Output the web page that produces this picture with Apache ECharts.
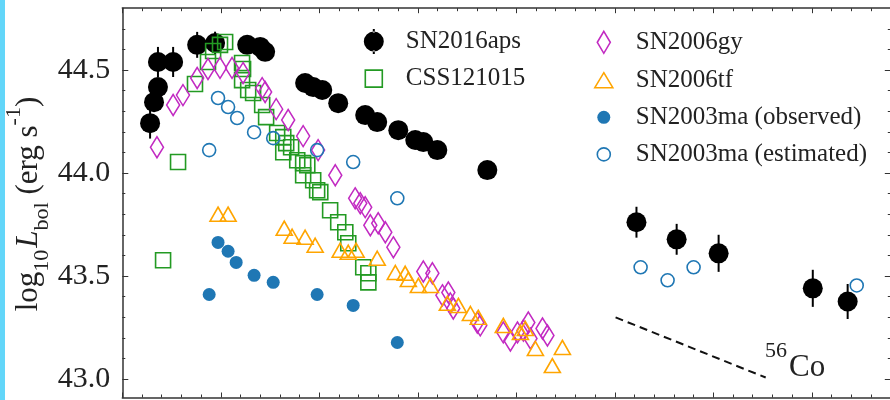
<!DOCTYPE html>
<html>
<head>
<meta charset="utf-8">
<title>Bolometric light curves</title>
<script src="https://cdn.jsdelivr.net/npm/echarts@6.0.0/dist/echarts.min.js"></script>
<style>
  html, body { margin: 0; padding: 0; background: #fff; }
  #main { width: 890px; height: 400px; }
</style>
</head>
<body>
<div id="main"></div>
<script>
// Rest-frame days (x) and log10 bolometric luminosity in erg/s (y)
const aps_t   = [-35.9, -33.9, -31.9, -31.9, -24.2, -12.0, -2.9, 13.4, 20.0, 22.5, 42.8, 46.9, 51.5, 59.6, 73.3, 79.4, 90.1, 98.7, 102.8, 109.9, 135.3, 211.0, 231.4, 252.7, 300.5, 318.2];
const aps_L   = [44.242, 44.344, 44.417, 44.539, 44.539, 44.622, 44.631, 44.622, 44.612, 44.588, 44.437, 44.417, 44.403, 44.339, 44.281, 44.247, 44.208, 44.160, 44.150, 44.111, 44.014, 43.761, 43.678, 43.610, 43.440, 43.376];
const aps_err = [0.075, 0.03, 0.03, 0.073, 0.073, 0.063, 0.055, 0.03, 0.03, 0.03, 0.02, 0.02, 0.02, 0.02, 0.02, 0.02, 0.02, 0.02, 0.02, 0.02, 0.02, 0.075, 0.075, 0.09, 0.09, 0.085];

const css_t = [-29.3, -21.7, -13.1, -6.5, -3.9, -0.4, 2.2, 10.8, 11.3, 10.8, 13.9, 16.4, 21.0, 23.0, 28.6, 31.7, 33.2, 35.7, 31.7, 38.8, 41.8, 43.9, 41.8, 46.9, 48.9, 50.5, 55.5, 59.6, 63.2, 64.7, 72.3, 74.9, 74.9];
const css_L = [43.576, 44.053, 44.432, 44.539, 44.592, 44.622, 44.636, 44.534, 44.505, 44.451, 44.403, 44.388, 44.330, 44.271, 44.194, 44.174, 44.145, 44.125, 44.101, 44.062, 44.048, 44.038, 43.989, 43.965, 43.916, 43.907, 43.819, 43.761, 43.712, 43.659, 43.542, 43.513, 43.469];

const gy_t = [-32.4, -24.2, -19.2, -12.0, -6.5, -0.4, 5.7, 11.3, 21.0, 22.5, 28.1, 34.2, 41.8, 49.4, 58.1, 68.2, 70.8, 73.3, 75.9, 79.9, 83.5, 87.6, 102.8, 107.4, 112.5, 115.5, 116.5, 118.0, 130.2, 131.7, 143.4, 147.0, 150.6, 153.6, 156.1, 157.2, 163.3, 165.8];
const gy_L = [44.125, 44.330, 44.378, 44.461, 44.505, 44.510, 44.510, 44.485, 44.412, 44.393, 44.310, 44.257, 44.179, 44.111, 43.989, 43.877, 43.853, 43.834, 43.746, 43.756, 43.712, 43.639, 43.522, 43.513, 43.406, 43.420, 43.367, 43.342, 43.274, 43.260, 43.226, 43.187, 43.226, 43.235, 43.274, 43.196, 43.245, 43.211];

const tf_t = [-1.4, 3.7, 32.2, 36.2, 42.8, 47.9, 60.6, 64.7, 68.7, 79.4, 88.6, 93.6, 95.2, 100.3, 106.4, 115.0, 120.6, 126.7, 130.7, 143.4, 152.1, 154.6, 159.7, 168.3, 173.4];
const tf_L = [43.800, 43.800, 43.732, 43.693, 43.688, 43.649, 43.625, 43.615, 43.625, 43.586, 43.517, 43.513, 43.483, 43.454, 43.454, 43.367, 43.357, 43.318, 43.299, 43.260, 43.226, 43.245, 43.148, 43.065, 43.153];

const maObs_t = [-5.9, -1.4, 3.7, 7.8, 16.9, 26.6, 48.9, 67.2, 89.6];
const maObs_L = [43.410, 43.663, 43.620, 43.566, 43.503, 43.469, 43.410, 43.357, 43.177];

const maEst_t = [-5.9, -1.4, 3.7, 8.3, 16.9, 26.6, 48.9, 67.2, 89.6, 213.1, 226.8, 240.0, 322.8];
const maEst_L = [44.111, 44.364, 44.320, 44.267, 44.198, 44.169, 44.111, 44.053, 43.877, 43.542, 43.479, 43.542, 43.454];

// 56Co decay slope segment
const co_t = [200.4, 276.6];
const co_L = [43.299, 43.007];

// Axis ticks
const yMajorTicks = [43.0, 43.5, 44.0, 44.5];
const yMinorTicks = [43.1, 43.2, 43.3, 43.4, 43.6, 43.7, 43.8, 43.9, 44.1, 44.2, 44.3, 44.4, 44.6, 44.7];

const FONT = "'Liberation Serif', 'DejaVu Serif', serif";
const AXIS_COLOR = '#333';
const TEXT_COLOR = '#222';
const C_GREEN = '#239a23';
const C_MAGENTA = '#c22ac2';
const C_ORANGE = '#ffa500';
const C_BLUE = '#1f77b4';

const zip = (a, b) => a.map((v, i) => [v, b[i]]);

// Legend glyphs laid out in a 43x28 box (moveTo corners fix the box size)
const BOX = 'path://M0 0M43 28';
const ICON = {
  aps: BOX + 'M6 14A10 10 0 1 0 26 14A10 10 0 1 0 6 14ZM15 1.5H17V5H15ZM15 23H17V26.5H15Z',
  css: BOX + 'M7.5 5.5H24.5V22.5H7.5Z',
  gy:  BOX + 'M16 3L22.5 14L16 25L9.5 14Z',
  tf:  BOX + 'M16 6.5L25 21.5H7Z',
  dot: BOX + 'M9.5 14A6.5 6.5 0 1 0 22.5 14A6.5 6.5 0 1 0 9.5 14Z'
};

const openStyle = (c) => ({ color: 'rgba(0,0,0,0)', borderColor: c, borderWidth: 1.6, opacity: 1 });
const filledStyle = (c) => ({ color: c, borderWidth: 0, opacity: 1 });

const xAxisBase = (pos) => ({
  type: 'value', position: pos, min: -50, max: 350, interval: 50,
  axisLine: { show: true, onZero: false, lineStyle: { color: AXIS_COLOR, width: 1.5 } },
  axisTick: { show: true, inside: true, length: 5, lineStyle: { color: AXIS_COLOR, width: 1 } },
  minorTick: { show: true, splitNumber: 5, length: 3, lineStyle: { color: AXIS_COLOR, width: 1 } },
  axisLabel: { show: false },
  splitLine: { show: false }, minorSplitLine: { show: false }
});

const yAxisBase = (pos, ticks, len, withLine, offset) => ({
  type: 'value', position: pos, min: 42.91, max: 44.8, offset: offset,
  axisLine: { show: withLine, onZero: false, lineStyle: { color: AXIS_COLOR, width: 1.5 } },
  axisTick: { show: true, inside: true, length: len, customValues: ticks, lineStyle: { color: AXIS_COLOR, width: 1 } },
  axisLabel: { show: false },
  splitLine: { show: false }
});

const yLeftMajor = yAxisBase('left', yMajorTicks, 6, true, 0);
yLeftMajor.axisLabel = {
  show: true, customValues: yMajorTicks, margin: 12,
  formatter: (v) => Number(v).toFixed(1),
  fontSize: 30, fontFamily: FONT, color: TEXT_COLOR
};

const option = {
  animation: false,
  backgroundColor: '#fff',
  grid: { left: 122.3, top: 8.2, width: 788, height: 389.3, containLabel: false, outerBoundsMode: 'none' },
  xAxis: [xAxisBase('bottom'), xAxisBase('top')],
  yAxis: [
    yLeftMajor,
    yAxisBase('left', yMinorTicks, 3, false, 0),
    yAxisBase('right', yMajorTicks, 6, true, -19.5),
    yAxisBase('right', yMinorTicks, 3, false, -19.5)
  ],
  legend: [
    {
      orient: 'vertical', left: 357, top: 27.5, padding: 0,
      itemWidth: 43, itemHeight: 28, itemGap: 8.3, selectedMode: false,
      textStyle: { fontSize: 25, fontFamily: FONT, color: TEXT_COLOR },
      data: [
        { name: 'SN2016aps', icon: ICON.aps, itemStyle: filledStyle('#000') },
        { name: 'CSS121015', icon: ICON.css, itemStyle: openStyle(C_GREEN) }
      ]
    },
    {
      orient: 'vertical', left: 587, top: 27.5, padding: 0,
      itemWidth: 43, itemHeight: 28, itemGap: 8.3, selectedMode: false,
      textStyle: { fontSize: 25, fontFamily: FONT, color: TEXT_COLOR },
      data: [
        { name: 'SN2006gy', icon: ICON.gy, itemStyle: openStyle(C_MAGENTA) },
        { name: 'SN2006tf', icon: ICON.tf, itemStyle: openStyle(C_ORANGE) },
        { name: 'SN2003ma (observed)', icon: ICON.dot, itemStyle: filledStyle(C_BLUE) },
        { name: 'SN2003ma (estimated)', icon: ICON.dot, itemStyle: openStyle(C_BLUE) }
      ]
    }
  ],
  series: [
    {
      name: 'SN2016aps errors', type: 'custom', silent: true,
      data: aps_t.map((t, i) => [t, aps_L[i], aps_err[i]]),
      encode: { x: 0, y: 1 },
      renderItem: (params, api) => {
        const x = api.value(0), y = api.value(1), e = api.value(2);
        const p1 = api.coord([x, y + e]);
        const p2 = api.coord([x, y - e]);
        return {
          type: 'line',
          shape: { x1: p1[0], y1: p1[1], x2: p2[0], y2: p2[1] },
          style: { stroke: '#000', lineWidth: 2 }
        };
      }
    },
    {
      name: 'SN2016aps', type: 'scatter', silent: true,
      symbol: 'circle', symbolSize: 20,
      itemStyle: filledStyle('#000'),
      data: zip(aps_t, aps_L)
    },
    {
      name: 'CSS121015', type: 'scatter', silent: true,
      symbol: 'rect', symbolSize: 15,
      itemStyle: openStyle(C_GREEN),
      data: zip(css_t, css_L)
    },
    {
      name: 'SN2006gy', type: 'scatter', silent: true,
      symbol: 'diamond', symbolSize: [13, 21],
      itemStyle: openStyle(C_MAGENTA),
      data: zip(gy_t, gy_L)
    },
    {
      name: 'SN2006tf', type: 'scatter', silent: true,
      symbol: 'triangle', symbolSize: [16, 14],
      itemStyle: openStyle(C_ORANGE),
      data: zip(tf_t, tf_L)
    },
    {
      name: 'SN2003ma (observed)', type: 'scatter', silent: true,
      symbol: 'circle', symbolSize: 13,
      itemStyle: filledStyle(C_BLUE),
      data: zip(maObs_t, maObs_L)
    },
    {
      name: 'SN2003ma (estimated)', type: 'scatter', silent: true,
      symbol: 'circle', symbolSize: 13,
      itemStyle: openStyle(C_BLUE),
      data: zip(maEst_t, maEst_L)
    },
    {
      name: '56Co', type: 'line', silent: true,
      showSymbol: false, symbol: 'none',
      lineStyle: { color: '#111', width: 2, type: [8, 5] },
      data: zip(co_t, co_L)
    }
  ],
  graphic: [
    {
      type: 'rect', left: 0, top: 0, silent: true,
      shape: { width: 5, height: 400 },
      style: { fill: '#63d6f9' }
    },
    {
      type: 'text', x: 28.5, y: 204, rotation: Math.PI / 2, silent: true,
      style: {
        text: '{m|log}{s|10}{t| }{i|L}{s|bol}{m| (erg s}{p|-1}{m|)}',
        align: 'center', verticalAlign: 'middle', fill: TEXT_COLOR,
        rich: {
          m: { fontSize: 31, fontFamily: FONT, lineHeight: 50, verticalAlign: 'middle', fill: TEXT_COLOR },
          i: { fontSize: 31, fontFamily: FONT, fontStyle: 'italic', lineHeight: 50, verticalAlign: 'middle', fill: TEXT_COLOR },
          t: { fontSize: 8, fontFamily: FONT, lineHeight: 50, verticalAlign: 'middle' },
          s: { fontSize: 22, fontFamily: FONT, lineHeight: 30, verticalAlign: 'bottom', fill: TEXT_COLOR },
          p: { fontSize: 22, fontFamily: FONT, lineHeight: 16, verticalAlign: 'top', fill: TEXT_COLOR }
        }
      }
    },
    {
      type: 'text', x: 765, y: 351, silent: true,
      style: { text: '56', fontSize: 22, fontFamily: FONT, fill: TEXT_COLOR, align: 'left', verticalAlign: 'middle' }
    },
    {
      type: 'text', x: 789, y: 368, silent: true,
      style: { text: 'Co', fontSize: 31, fontFamily: FONT, fill: TEXT_COLOR, align: 'left', verticalAlign: 'middle' }
    }
  ]
};

const chart = echarts.init(document.getElementById('main'), null, { renderer: 'canvas' });
chart.setOption(option);
</script>
</body>
</html>
